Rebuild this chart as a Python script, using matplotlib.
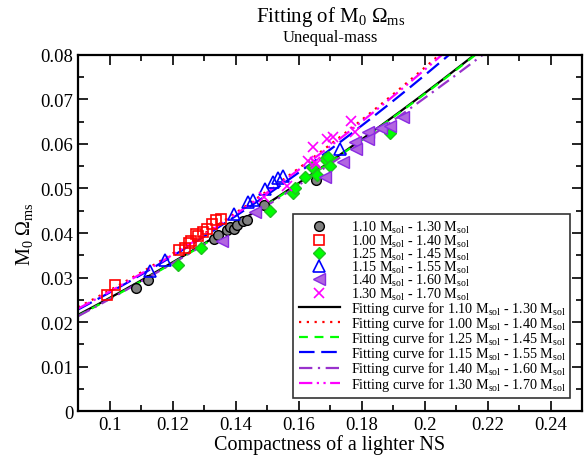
import numpy as np
import matplotlib
matplotlib.use("Agg")
import matplotlib.pyplot as plt
from matplotlib.ticker import MultipleLocator, FuncFormatter

plt.rcParams['font.family'] = ['Liberation Serif', 'DejaVu Serif']
plt.rcParams['mathtext.fontset'] = 'custom'
plt.rcParams['mathtext.rm'] = 'Liberation Serif'
plt.rcParams['mathtext.it'] = 'Liberation Serif:italic'
plt.rcParams['mathtext.bf'] = 'Liberation Serif:bold'

# ---- data ----
labels = ["1.10 M$_{\\rm sol}$ - 1.30 M$_{\\rm sol}$",
          "1.00 M$_{\\rm sol}$ - 1.40 M$_{\\rm sol}$",
          "1.25 M$_{\\rm sol}$ - 1.45 M$_{\\rm sol}$",
          "1.15 M$_{\\rm sol}$ - 1.55 M$_{\\rm sol}$",
          "1.40 M$_{\\rm sol}$ - 1.60 M$_{\\rm sol}$",
          "1.30 M$_{\\rm sol}$ - 1.70 M$_{\\rm sol}$"]

c_110_130 = [0.1085, 0.1122, 0.1331, 0.1345, 0.1373, 0.1383, 0.1395, 0.1405, 0.1425, 0.1436, 0.1489, 0.1657]
y_110_130 = [0.0276, 0.0294, 0.0387, 0.0395, 0.0407, 0.0414, 0.0410, 0.0419, 0.0428, 0.0430, 0.0463, 0.0518]

c_100_140 = [0.0993, 0.1016, 0.1220, 0.1239, 0.1252, 0.1260, 0.1273, 0.1280, 0.1297, 0.1310, 0.1326, 0.1339, 0.1354]
y_100_140 = [0.0261, 0.0283, 0.0362, 0.0366, 0.0378, 0.0383, 0.0398, 0.0394, 0.0402, 0.0410, 0.0420, 0.0430, 0.0431]

c_125_145 = [0.1219, 0.1289, 0.1510, 0.1583, 0.1589, 0.1620, 0.1642, 0.1660, 0.1684, 0.1694, 0.1700, 0.1889]
y_125_145 = [0.0327, 0.0367, 0.0449, 0.0489, 0.0500, 0.0525, 0.0548, 0.0530, 0.0566, 0.0570, 0.0551, 0.0625]

c_115_155 = [0.1130, 0.1177, 0.1394, 0.1441, 0.1455, 0.1494, 0.1520, 0.1536, 0.1552, 0.1731]
y_115_155 = [0.0314, 0.0340, 0.0443, 0.0469, 0.0475, 0.0499, 0.0515, 0.0523, 0.0528, 0.0589]

c_140_160 = [0.1357, 0.1462, 0.1684, 0.1740, 0.1778, 0.1784, 0.1820, 0.1820, 0.1863, 0.1889, 0.1931]
y_140_160 = [0.0383, 0.0448, 0.0525, 0.0560, 0.0604, 0.0589, 0.0626, 0.0611, 0.0635, 0.0641, 0.0660]

c_130_170 = [0.1490, 0.1563, 0.1631, 0.1647, 0.1652, 0.1657, 0.1689, 0.1710, 0.1768, 0.1778]
y_130_170 = [0.0480, 0.0506, 0.0562, 0.0593, 0.0559, 0.0555, 0.0611, 0.0615, 0.0652, 0.0626]

# fitting curves: y = a + b*(x-0.09) + c*(x-0.09)^2  (fit parameters)
fit_a = [0.0216, 0.0233, 0.0214, 0.0228, 0.0213, 0.0230]
fit_b = [0.371, 0.3697, 0.372, 0.371, 0.377, 0.371]
fit_c = [0.741, 1.087, 0.735, 0.975, 0.623, 1.061]

xlim = (0.09, 0.25)
ylim = (0.0, 0.08)

fig = plt.figure(figsize=(5.87, 4.60), dpi=100)
ax = fig.add_axes([0.1329, 0.1043, 0.8586, 0.7740])

mk = dict(linestyle='none')
ax.plot(c_110_130, y_110_130, marker='o', ms=7, mfc='#808080', mec='black', mew=1.0, **mk, label=labels[0], zorder=3)
ax.plot(c_100_140, y_100_140, marker='s', ms=7, mfc='none', mec='#ff0000', mew=1.2, **mk, label=labels[1], zorder=3)
ax.plot(c_125_145, y_125_145, marker='D', ms=6.5, mfc='#00ff00', mec='#20c020', mew=1.0, **mk, label=labels[2], zorder=3)
ax.plot(c_115_155, y_115_155, marker='^', ms=8.5, mfc='none', mec='#0000ff', mew=1.2, **mk, label=labels[3], zorder=3)
ax.plot(c_140_160, y_140_160, marker='<', ms=9, mfc='#b266e0', mec='#8a2be2', mew=1.0, **mk, label=labels[4], zorder=3)
ax.plot(c_130_170, y_130_170, marker='x', ms=7, mec='#ff00ff', mew=1.2, **mk, label=labels[5], zorder=3)

fit_colors = ['black', '#ff0000', '#00ff00', '#0000ff', '#9932cc', '#ff00ff']
fit_styles = ['-', (0, (1, 2.5)), (0, (4, 3)), (0, (7, 3)), (0, (6, 2.5, 1, 2.5)), (0, (6, 2, 1, 2, 1, 2))]
xs = np.linspace(xlim[0], xlim[1], 300)
for i in range(6):
    ys = fit_a[i] + fit_b[i] * (xs - 0.09) + fit_c[i] * (xs - 0.09) ** 2
    ax.plot(xs, ys, color=fit_colors[i], linestyle=fit_styles[i], lw=1.6,
            label="Fitting curve for " + labels[i], zorder=2)

ax.set_xlim(*xlim)
ax.set_ylim(*ylim)
ax.xaxis.set_major_locator(MultipleLocator(0.02))
ax.xaxis.set_minor_locator(MultipleLocator(0.01))
ax.yaxis.set_major_locator(MultipleLocator(0.01))
ax.yaxis.set_minor_locator(MultipleLocator(0.005))
fmt = FuncFormatter(lambda v, p: ("%g" % round(v, 4)) if abs(v) > 1e-12 else "0")
ax.xaxis.set_major_formatter(fmt)
ax.yaxis.set_major_formatter(fmt)
ax.tick_params(which='both', direction='in', top=True, right=True, labelsize=13.5, width=1.2)
ax.tick_params(which='major', length=7)
ax.tick_params(which='minor', length=4)
for s in ax.spines.values():
    s.set_linewidth(1.6)

ax.set_xlabel("Compactness of a lighter NS", fontsize=14.5, labelpad=1)
ax.set_ylabel("M$_0$ $\\Omega_{\\rm ms}$", fontsize=14.5, labelpad=4)
fig.text(0.563, 0.962, "Fitting of M$_0$ $\\Omega_{\\rm ms}$", ha='center', va='center', fontsize=15)
fig.text(0.563, 0.918, "Unequal-mass", ha='center', va='center', fontsize=12)

leg = ax.legend(loc='lower left', bbox_to_anchor=(0.427, 0.0357, 0.549, 0.526), mode='expand',
                fontsize=10.2, frameon=True, fancybox=False, edgecolor='black',
                handlelength=2.9, handletextpad=0.8, borderaxespad=0, labelspacing=-0.2,
                borderpad=0.4, numpoints=1)
leg.get_frame().set_linewidth(1.2)

fig.savefig("out.png", dpi=100)
